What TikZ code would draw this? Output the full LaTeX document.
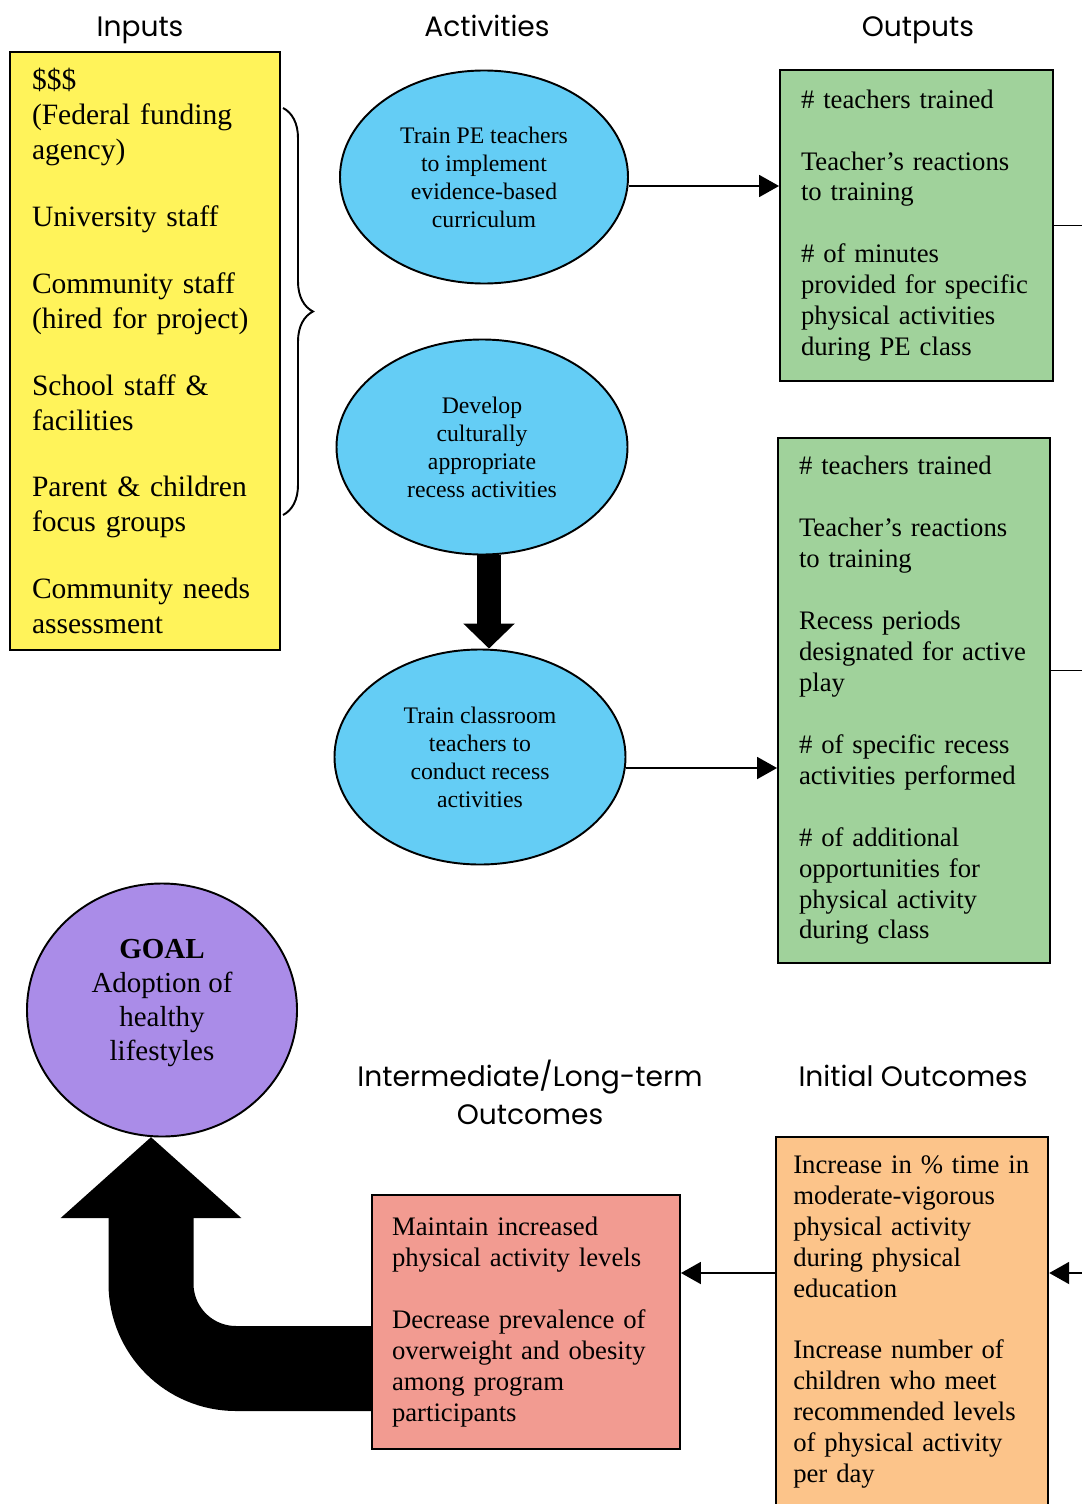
\documentclass[tikz,border=0pt]{standalone}
\usepackage{fontspec}
\setmainfont{Liberation Serif}
\newfontfamily\headfont{Poppins}
\usetikzlibrary{shapes.geometric, arrows.meta, decorations.pathreplacing}

\definecolor{inputyellow}{RGB}{255,243,90}
\definecolor{actblue}{RGB}{100,205,245}
\definecolor{outgreen}{RGB}{160,210,155}
\definecolor{goalpurple}{RGB}{170,140,232}
\definecolor{longsalmon}{RGB}{242,155,145}
\definecolor{initorange}{RGB}{252,196,138}

\begin{document}
\begin{tikzpicture}[
    heading/.style={font=\headfont\fontsize{16}{21.6}\selectfont, align=center},
    listbox/.style={draw, line width=1.1pt, inner xsep=0.42cm, inner ysep=0pt, align=left, font=\fontsize{15.2}{17.6}\selectfont},
    activity/.style={draw, ellipse, line width=1.1pt, fill=actblue, inner sep=0pt, align=center, font=\fontsize{13.5}{15.9}\selectfont},
    flow/.style={-{Triangle[length=0.4cm, width=0.44cm]}, line width=1.1pt}
  ]
    \useasboundingbox (0,0) rectangle (21.62,-30.08);

    % Column headings
    \node[heading, anchor=base] (hInputs) at (2.8,-0.74) {Inputs};
    \node[heading, anchor=base] (hActivities) at (9.74,-0.74) {Activities};
    \node[heading, anchor=base] (hOutputs) at (18.36,-0.74) {Outputs};
    \node[heading] (hLong) at (10.6,-21.84) {Intermediate/Long-term\\Outcomes};
    \node[heading, anchor=base] (hInitial) at (18.26,-21.72) {Initial Outcomes};

    % Inputs
    \node[listbox, fill=inputyellow, inner xsep=0.44cm, text width=4.52cm, minimum height=11.96cm,
          font=\fontsize{16.8}{19.9}\selectfont] (inp) at (2.9,-7.02) {
      \$\$\$\\ (Federal funding\\ agency)\\[0.64cm]
      University staff\\[0.64cm]
      Community staff\\ (hired for project)\\[0.64cm]
      School staff \&\\ facilities\\[0.64cm]
      Parent \& children\\ focus groups\\[0.64cm]
      Community needs\\ assessment
    };

    % Brace grouping the inputs
    \draw[line width=1.1pt, decorate, decoration={brace, amplitude=0.6cm}] (5.66,-2.16) -- (5.66,-10.3);

    % Activities
    \node[activity, minimum width=5.76cm, minimum height=4.26cm] (trainPE) at (9.68,-3.54) {
      Train PE teachers\\ to implement\\ evidence-based\\ curriculum
    };
    \node[activity, minimum width=5.82cm, minimum height=4.3cm] (develop) at (9.64,-8.94) {
      Develop\\ culturally\\ appropriate\\ recess activities
    };
    \node[activity, minimum width=5.82cm, minimum height=4.3cm] (trainCT) at (9.6,-15.14) {
      Train classroom\\ teachers to\\ conduct recess\\ activities
    };

    % Outputs
    \node[listbox, fill=outgreen, text width=4.62cm, minimum height=6.22cm] (out1) at (18.33,-4.51) {
      \# teachers trained\\[0.62cm]
      Teacher's reactions\\ to training\\[0.62cm]
      \# of minutes\\ provided for specific\\ physical activities\\ during PE class
    };
    \node[listbox, fill=outgreen, text width=4.6cm, minimum height=10.5cm] (out2) at (18.28,-14.01) {
      \# teachers trained\\[0.62cm]
      Teacher's reactions\\ to training\\[0.62cm]
      Recess periods\\ designated for active\\ play\\[0.62cm]
      \# of specific recess\\ activities performed\\[0.62cm]
      \# of additional\\ opportunities for\\ physical activity\\ during class
    };

    % Goal
    \node[draw, ellipse, line width=1.1pt, fill=goalpurple, minimum width=5.4cm, minimum height=5.06cm,
          inner sep=0pt, text depth=0.4cm, align=center, font=\fontsize{16.5}{19.3}\selectfont] (goal) at (3.24,-20.2) {
      \textbf{GOAL}\\ Adoption of\\ healthy\\ lifestyles
    };

    % Outcomes
    \node[listbox, fill=longsalmon, inner xsep=0.4cm, text width=5.36cm, minimum height=5.08cm] (inter) at (10.52,-26.44) {
      Maintain increased\\ physical activity levels\\[0.62cm]
      Decrease prevalence of\\ overweight and obesity\\ among program\\ participants
    };
    \node[listbox, fill=initorange, inner xsep=0.35cm, text width=4.75cm, minimum height=7.4cm] (init) at (18.24,-26.44) {
      Increase in \% time in\\ moderate-vigorous\\ physical activity\\ during physical\\ education\\[0.62cm]
      Increase number of\\ children who meet\\ recommended levels\\ of physical activity\\ per day
    };

    % Flow arrows
    \draw[flow] ([yshift=-0.18cm]trainPE.east) -- ([yshift=-0.18cm]trainPE.east -| out1.west);
    \draw[flow] ([yshift=-0.22cm]trainCT.east) -- ([yshift=-0.22cm]trainCT.east -| out2.west);
    \draw[line width=0.48cm, -{Triangle[length=0.5cm, width=1cm]}] ([xshift=0.14cm]develop.south) -- ([xshift=0.14cm]develop.south |- trainCT.north);

    % Return line along the right edge
    \coordinate (rail) at (22.2,-4.51);
    \draw[line width=1.1pt] (out1.east) -- (rail);
    \draw[line width=1.1pt] ([yshift=0.6cm]out2.east) -- ([yshift=0.6cm]out2.east -| rail);
    \draw[flow] (rail) -- ([yshift=0.98cm]init.east -| rail) -- ([yshift=0.98cm]init.east);
    \draw[flow] ([yshift=0.98cm]init.west) -- ([yshift=0.98cm]init.west -| inter.east);

    % Big arrow to the goal
    \coordinate (goaltip) at (3.02,-22.74);
    \draw[line width=1.7cm, rounded corners=1.7cm, -{Triangle[length=1.62cm, width=3.52cm]}]
      ([yshift=-0.93cm]inter.west) -| (goaltip);
\end{tikzpicture}
\end{document}
